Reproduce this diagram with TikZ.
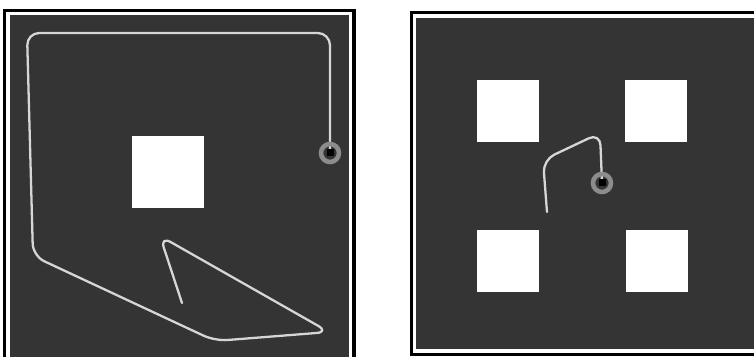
\documentclass[tikz,border=0pt]{standalone}
\usepackage{tikz}
\usetikzlibrary{arrows.meta}
\definecolor{floor}{RGB}{52,52,52}
\definecolor{trace}{RGB}{214,214,214}
\definecolor{halo}{RGB}{140,140,140}
\tikzset{
  block/.style={draw=none,fill=white,inner sep=0pt,minimum width=#1,minimum height=#1},
  trail/.style={trace,line width=1.3pt,rounded corners=7pt,line cap=round,line join=round},
  robot/.style={halo,line width=2.6pt}
}
\begin{document}
\begin{tikzpicture}[x=0.02cm,y=-0.02cm]
\useasboundingbox (0,0) rectangle (754,357);
\begin{scope}
\clip (0,0) rectangle (754,357);
% left panel
\fill[black](3,9)rectangle(356,370);
\fill[white](6,12)rectangle(352,366);
\fill[floor](10,15)rectangle(349,362);
% right panel
\fill[black](410,11)rectangle(770,356);
\fill[white](413,14)rectangle(770,353);
\fill[floor](416,18)rectangle(770,349);
\end{scope}
% obstacles
\node[block=1.44cm](obs) at (168,172){};
\node[block=1.24cm](tl) at (508,111){};
\node[block=1.24cm](tr) at (656,111){};
\node[block=1.24cm](bl) at (508,261){};
\node[block=1.24cm](br) at (657,261){};
% robots
\coordinate(r1) at (330,153);
\coordinate(r2) at (602,183);
% left trajectory
\draw[trail](r1)--(330,33)--(27,33)--(33,256)--(215,341)--(329,332)--(160,236)--(182,303);
% right trajectory
\draw[trail](r2)--(600,133)--(543,160)--(547,212);
\foreach \r in {r1,r2}{
  \draw[robot](\r) circle (9);
  \fill[black](\r) ++(-3.5,-3.5) rectangle ++(7,7);
}
\end{tikzpicture}
\end{document}
